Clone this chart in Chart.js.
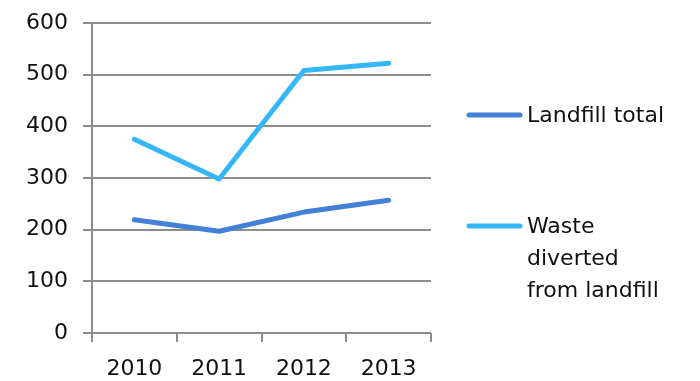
<!DOCTYPE html>
<html lang="en">
<head>
    <meta charset="UTF-8">
    <title>Landfill</title>
    <script src="https://cdn.jsdelivr.net/npm/chart.js"></script>
    <style>
        html, body { margin: 0; padding: 0; background: #fff; }
        #chartContainer { width: 700px; height: 381px; }
    </style>
</head>
<body>
    <div id="chartContainer">
        <canvas id="wasteChart" width="700" height="381"></canvas>
    </div>

    <script>
        const years = ['2010', '2011', '2012', '2013'];
        const landfillTotal = [219, 197, 234, 257];
        const wasteDiverted = [375, 298, 508, 522];
        const yTicks = [0, 100, 200, 300, 400, 500, 600];

        const seriesNames = ['Landfill total', ['Waste', 'diverted', 'from landfill']];
        const seriesColors = ['#4281d6', '#35b6f8'];

        const FONT = 'DejaVu Sans';
        const gridGray = '#8d8d8d';

        // legend on the right, drawn by hand so the second label can wrap
        const sideLegend = {
            id: 'sideLegend',
            afterDraw(chart) {
                const ctx = chart.ctx;
                const rows = [115, 226];
                ctx.save();
                chart.data.datasets.forEach((ds, i) => {
                    const y = rows[i];
                    ctx.strokeStyle = ds.borderColor;
                    ctx.lineWidth = 5;
                    ctx.lineCap = 'round';
                    ctx.beginPath();
                    ctx.moveTo(469, y);
                    ctx.lineTo(520, y);
                    ctx.stroke();

                    const lines = Array.isArray(ds.label) ? ds.label : [ds.label];
                    ctx.fillStyle = '#111';
                    ctx.font = '22px "' + FONT + '"';
                    ctx.textBaseline = 'middle';
                    ctx.textAlign = 'left';
                    lines.forEach((t, j) => ctx.fillText(t, 527, y + 1 + j * 32));
                });
                ctx.restore();
            }
        };

        const ctx = document.getElementById('wasteChart').getContext('2d');
        new Chart(ctx, {
            type: 'line',
            data: {
                labels: years,
                datasets: [
                    {
                        label: seriesNames[0],
                        data: landfillTotal,
                        borderColor: seriesColors[0],
                        borderWidth: 5,
                        pointRadius: 0,
                        tension: 0,
                        borderCapStyle: 'round',
                        borderJoinStyle: 'round'
                    },
                    {
                        label: seriesNames[1],
                        data: wasteDiverted,
                        borderColor: seriesColors[1],
                        borderWidth: 5,
                        pointRadius: 0,
                        tension: 0,
                        borderCapStyle: 'round',
                        borderJoinStyle: 'round'
                    }
                ]
            },
            options: {
                responsive: false,
                animation: false,
                layout: { padding: { top: 23, right: 269, bottom: 0, left: 0 } },
                plugins: {
                    legend: { display: false },
                    tooltip: { enabled: false }
                },
                scales: {
                    x: {
                        offset: true,
                        grid: {
                            offset: true,
                            drawOnChartArea: false,
                            color: gridGray,
                            lineWidth: 2,
                            tickLength: 9
                        },
                        border: { display: false },
                        ticks: {
                            color: '#111',
                            font: { family: FONT, size: 22 },
                            padding: 14,
                            maxRotation: 0
                        },
                        afterFit(scale) { scale.height = 48; }
                    },
                    y: {
                        min: 0,
                        max: 600,
                        afterBuildTicks(scale) {
                            scale.ticks = yTicks.map(v => ({ value: v }));
                        },
                        grid: {
                            color: gridGray,
                            lineWidth: 2,
                            tickLength: 9
                        },
                        border: { display: true, color: gridGray, width: 2 },
                        ticks: {
                            color: '#111',
                            font: { family: FONT, size: 22 },
                            padding: 15
                        },
                        afterFit(scale) {
                            scale.width = 92;
                            // keep the plot top where the reference has it
                            scale.paddingTop = 0;
                            scale.paddingBottom = 0;
                        }
                    }
                }
            },
            plugins: [sideLegend]
        });
    </script>
</body>
</html>
